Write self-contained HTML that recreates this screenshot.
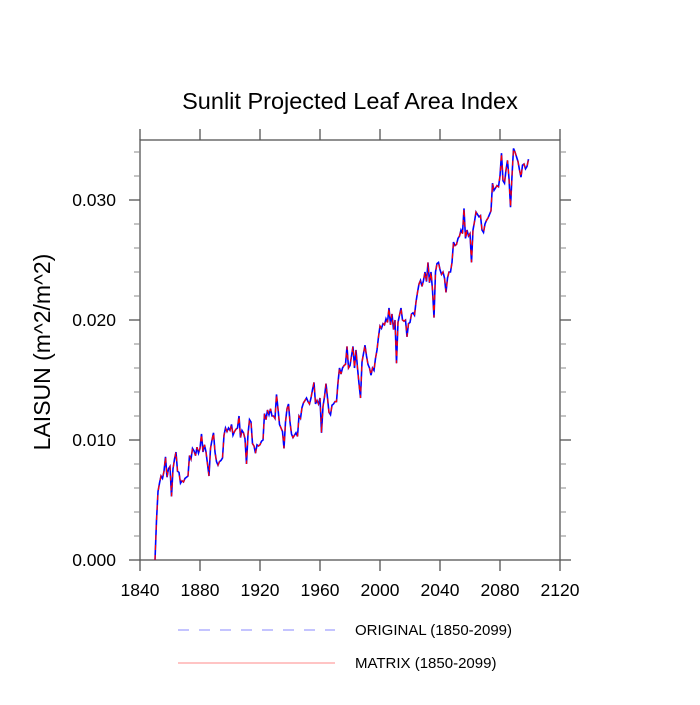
<!DOCTYPE html>
<html><head><meta charset="utf-8"><style>
html,body{margin:0;padding:0;background:#fff;}
svg text{font-family:"Liberation Sans",Arial,sans-serif;fill:#000;}
</style></head><body>
<svg id="chart" width="700" height="700" viewBox="0 0 700 700" xmlns="http://www.w3.org/2000/svg">
<text x="350" y="109" font-size="23.5" text-anchor="middle">Sunlit Projected Leaf Area Index</text>
<text transform="translate(50,352) rotate(-90)" font-size="23" text-anchor="middle">LAISUN  (m^2/m^2)</text>
<g id="axes"></g>
<g id="series"></g>
<g>
<line x1="178" y1="630" x2="335" y2="630" stroke="#8888ff" stroke-width="1" stroke-dasharray="11,10"/>
<text x="355" y="635" font-size="15">ORIGINAL (1850-2099)</text>
<line x1="178" y1="663" x2="335" y2="663" stroke="#ff8888" stroke-width="1"/>
<text x="355" y="668" font-size="15">MATRIX (1850-2099)</text>
</g>
</svg>
<script>
const startYear = 1850;
const matrix = [
0,3.3,5.7,6.4,7.0,6.8,7.4,8.6,6.9,7.6,
7.8,5.3,7.6,8.4,9.0,7.4,7.3,6.4,6.6,6.5,
6.8,6.9,7.0,8.7,8.4,9.3,9.1,8.7,9.4,8.9,
9.3,10.5,9.0,9.6,9.0,8.0,7.0,9.3,10.0,10.6,
9.0,8.2,7.9,8.2,8.3,8.5,10.4,11.0,10.7,11.0,
10.8,11.3,10.4,10.7,10.9,11.0,12.0,10.2,10.8,10.6,
10.1,8.0,10.5,11.7,11.5,9.7,9.5,8.9,9.6,9.5,
9.6,9.9,10.0,12.2,11.7,12.5,12.1,12.6,12.0,12.0,
11.8,13.8,12.6,11.3,11.0,10.7,9.3,11.5,12.6,13.0,
11.5,10.5,10.2,10.4,10.6,10.3,12.0,11.8,12.7,13.1,
13.3,13.5,13.2,13.0,13.5,14.2,14.8,13.0,13.3,13.0,
13.5,10.6,12.8,13.6,14.7,13.5,12.3,12.1,12.9,13.0,
13.2,13.2,14.8,16.0,15.5,16.0,16.2,16.3,17.8,16.0,
16.2,17.0,17.8,16.0,17.5,16.0,14.7,13.5,16.5,17.2,
17.9,17.0,16.3,16.0,15.4,16.0,15.8,16.8,17.5,18.6,
19.5,19.3,19.7,19.6,20.1,19.8,21.0,19.6,20.5,19.2,
20.0,16.4,19.8,20.4,21.0,20.0,19.9,20.0,18.6,19.7,
19.8,20.5,20.6,20.4,21.5,22.3,23.0,23.3,22.8,23.3,
24.0,23.2,24.8,23.1,24.0,22.5,20.2,24.0,24.7,24.8,
24.2,23.8,24.0,23.5,22.3,23.5,24.0,24.0,24.8,26.5,
26.2,26.3,26.8,27.0,27.5,27.2,29.3,26.8,27.5,27.0,
27.2,24.8,27.5,28.2,29.0,28.8,28.6,28.7,27.5,27.3,
28.0,28.3,28.5,28.8,29.1,31.4,30.8,31.0,31.2,31.1,
32.0,33.9,31.6,31.4,32.5,33.3,31.8,29.4,32.0,34.3,
34.0,33.6,33.2,32.5,31.9,32.9,33.0,32.6,32.8,33.4];
const original = matrix.slice();
const xTicks = [1840,1880,1920,1960,2000,2040,2080,2120];
const yTicks = [0,0.01,0.02,0.03];
const yTickLabels = ["0.000","0.010","0.020","0.030"];
const yMinor = [0.002,0.004,0.006,0.008,0.012,0.014,0.016,0.018,0.022,0.024,0.026,0.028,0.032,0.034];

const X0=140,X1=560,Y0=560,Y1=140;
const xs = yr => X0 + (yr-1840)/(2120-1840)*(X1-X0);
const ys = v => Y0 - v/0.035*(Y0-Y1);
const NS="http://www.w3.org/2000/svg";
const axes=document.getElementById('axes'), series=document.getElementById('series');
function mk(tag,attrs,parent){const e=document.createElementNS(NS,tag);for(const k in attrs)e.setAttribute(k,attrs[k]);parent.appendChild(e);return e;}
const ac="#555";
const frame=mk('rect',{x:X0,y:Y1,width:X1-X0,height:Y0-Y1,fill:"none",stroke:ac,"stroke-width":1.3},axes);


xTicks.forEach(t=>{
  const x=xs(t);
  const b=mk('line',{x1:x,y1:Y0,x2:x,y2:Y0+11,stroke:ac,"stroke-width":1.3},axes);
  
  
  const tp=mk('line',{x1:x,y1:Y1,x2:x,y2:Y1-11,stroke:ac,"stroke-width":1.3},axes);
  
  
  const l=mk('text',{x:x,y:Y0+36,"font-size":17.5,"text-anchor":"middle"},axes);
  l.textContent=t;
  
  
});
yTicks.forEach((t,i)=>{
  const y=ys(t);
  const a=mk('line',{x1:X0-11,y1:y,x2:X0,y2:y,stroke:ac,"stroke-width":1.3},axes);
  
  
  const r=mk('line',{x1:X1,y1:y,x2:X1+11,y2:y,stroke:ac,"stroke-width":1.3},axes);
  
  
  const l=mk('text',{x:X0-24,y:y+6,"font-size":17.5,"text-anchor":"end"},axes);
  l.textContent=yTickLabels[i];
  
  
});
yMinor.forEach(t=>{
  const y=ys(t);
  const a=mk('line',{x1:X0-6,y1:y,x2:X0,y2:y,stroke:"#888","stroke-width":1},axes);
  
  
  const r=mk('line',{x1:X1,y1:y,x2:X1+6,y2:y,stroke:"#888","stroke-width":1},axes);
  
  
});
function pts(arr){return arr.map((v,i)=>xs(startYear+i).toFixed(2)+","+ys(v/1000).toFixed(2)).join(" ");}
const po=mk('polyline',{points:pts(original),fill:"none",stroke:"#0000ff","stroke-width":1.6},series);


const pm=mk('polyline',{points:pts(matrix),fill:"none",stroke:"#ff0000","stroke-width":1.2,"stroke-dasharray":"5,5"},series);


</script>
</body></html>
